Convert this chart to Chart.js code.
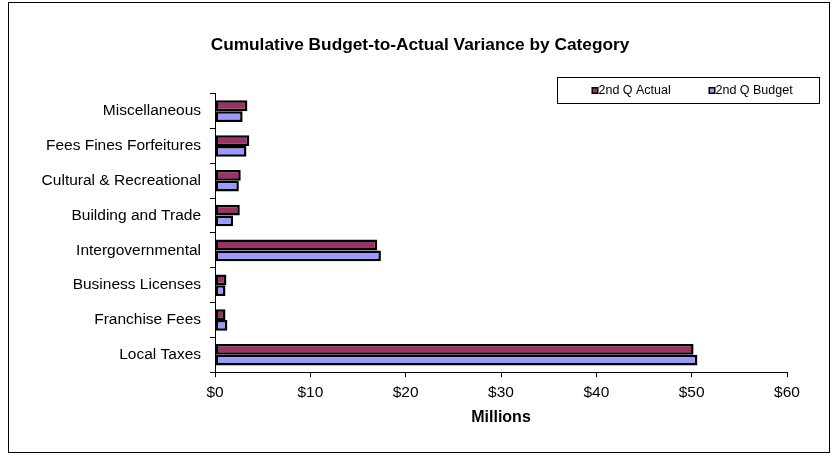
<!DOCTYPE html>
<html>
<head>
<meta charset="utf-8">
<title>Cumulative Budget-to-Actual Variance by Category</title>
<script src="https://cdn.jsdelivr.net/npm/chart.js@4/dist/chart.umd.min.js"></script>
<style>
  html, body { margin: 0; padding: 0; background: #ffffff; }
  #wrap { width: 836px; height: 456px; }
  canvas { display: block; }
</style>
</head>
<body>
<div id="wrap"><canvas id="chart" width="836" height="456"></canvas></div>
<script>
// Revenue categories, listed top to bottom
const categories = [
  'Miscellaneous',
  'Fees Fines Forfeitures',
  'Cultural & Recreational',
  'Building and Trade',
  'Intergovernmental',
  'Business Licenses',
  'Franchise Fees',
  'Local Taxes'
];

// Values in millions of dollars
const actualQ2 = [3.4, 3.6, 2.7, 2.6, 17.0, 1.2, 1.1, 50.2];
const budgetQ2 = [2.9, 3.3, 2.5, 1.9, 17.4, 1.1, 1.3, 50.6];

const seriesNames = ['2nd Q Actual', '2nd Q Budget'];
const xMin = 0;
const xMax = 60;
const xStep = 10;

const FONT = "'Liberation Sans', Arial, Helvetica, sans-serif";

// White background and thin outer frame
const framePlugin = {
  id: 'frame',
  beforeDraw(chart) {
    const ctx = chart.ctx;
    ctx.save();
    ctx.fillStyle = '#ffffff';
    ctx.fillRect(0, 0, chart.width, chart.height);
    ctx.strokeStyle = '#000000';
    ctx.lineWidth = 1;
    ctx.strokeRect(8.5, 2.5, 821, 450);
    ctx.restore();
  }
};

// Centre the title across the framed area rather than the padded layout box
const titleSpan = {
  id: 'titleSpan',
  afterLayout(chart) {
    const t = chart.titleBlock;
    if (t) {
      t.left = 10;
      t.right = 830;
    }
  }
};

// Boxed legend in the upper right, built from the dataset labels and colours
const boxedLegend = {
  id: 'boxedLegend',
  afterDraw(chart) {
    const ctx = chart.ctx;
    const box = { x: 557.5, y: 77.5, w: 262, h: 26 };
    ctx.save();
    ctx.strokeStyle = '#000000';
    ctx.lineWidth = 1;
    ctx.strokeRect(box.x, box.y, box.w, box.h);
    const itemX = [591.5, 708.5];
    const cy = box.y + box.h / 2;
    ctx.font = '12.5px ' + FONT;
    ctx.textBaseline = 'middle';
    ctx.textAlign = 'left';
    chart.data.datasets.forEach((ds, i) => {
      const mx = itemX[i];
      ctx.fillStyle = '#000000';
      ctx.fillRect(mx, cy - 3.5, 7, 7);
      ctx.fillStyle = ds.backgroundColor;
      ctx.fillRect(mx + 1.5, cy - 2, 4, 4);
      ctx.fillStyle = '#000000';
      ctx.fillText(ds.label, mx + 7, cy + 0.5);
    });
    ctx.restore();
  }
};

new Chart(document.getElementById('chart'), {
  type: 'bar',
  data: {
    labels: categories,
    datasets: [
      {
        label: seriesNames[0],
        data: actualQ2,
        backgroundColor: '#993366',
        borderColor: '#000000',
        borderWidth: 2.5,
        borderSkipped: false
      },
      {
        label: seriesNames[1],
        data: budgetQ2,
        backgroundColor: '#9999FF',
        borderColor: '#000000',
        borderWidth: 2.5,
        borderSkipped: false
      }
    ]
  },
  options: {
    indexAxis: 'y',
    responsive: false,
    animation: false,
    devicePixelRatio: 1,
    datasets: {
      bar: { categoryPercentage: 0.62, barPercentage: 1.0 }
    },
    layout: { padding: { left: 10, right: 49, top: 0, bottom: 29 } },
    plugins: {
      legend: { display: false },
      tooltip: { enabled: false },
      title: {
        display: true,
        text: 'Cumulative Budget-to-Actual Variance by Category',
        color: '#000000',
        font: { family: FONT, size: 17.3, weight: 'bold' },
        padding: { top: 35, bottom: 38 }
      }
    },
    scales: {
      x: {
        type: 'linear',
        min: xMin,
        max: xMax,
        ticks: {
          stepSize: xStep,
          color: '#000000',
          font: { family: FONT, size: 15.5 },
          padding: 6,
          callback: (v) => '$' + v
        },
        grid: {
          drawOnChartArea: false,
          drawTicks: true,
          tickLength: 5,
          color: '#000000'
        },
        border: { display: true, color: '#000000', width: 1 },
        title: {
          display: true,
          text: 'Millions',
          color: '#000000',
          font: { family: FONT, size: 16, weight: 'bold' },
          padding: { top: 0, bottom: 0 }
        }
      },
      y: {
        ticks: {
          color: '#000000',
          font: { family: FONT, size: 15.5 },
          padding: 9
        },
        grid: {
          offset: true,
          drawOnChartArea: false,
          drawTicks: true,
          tickLength: 5,
          color: '#000000'
        },
        border: { display: true, color: '#000000', width: 1 },
        afterFit(scale) { scale.width = 205; }
      }
    }
  },
  plugins: [framePlugin, titleSpan, boxedLegend]
});
</script>
</body>
</html>
